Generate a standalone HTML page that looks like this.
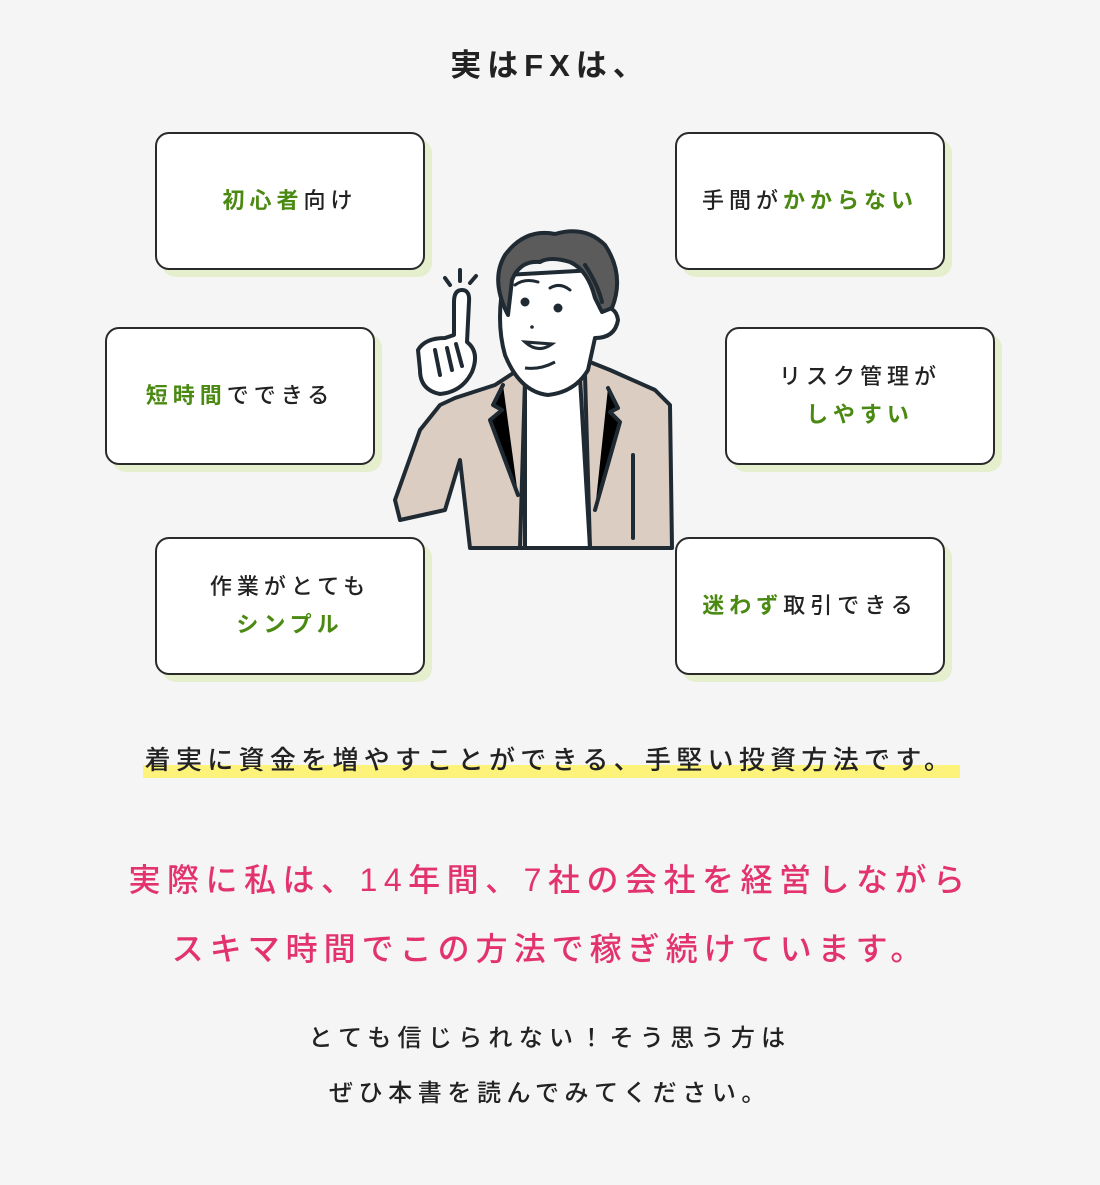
<!DOCTYPE html>
<html><head><meta charset="utf-8"><style>
*{margin:0;padding:0;box-sizing:border-box}
body{width:1100px;height:1185px;background:#f5f5f5;font-family:"Liberation Sans","Noto Sans CJK JP",sans-serif;color:#222;position:relative;overflow:hidden}
.t{position:absolute;left:0;width:1100px;text-align:center;white-space:nowrap}
.box{position:absolute;width:270px;height:138px;background:#fff;border:2px solid #2a2a2a;border-radius:14px;box-shadow:7px 7px 0 #e5eecd;display:flex;align-items:center;justify-content:center;text-align:center;font-size:22px;letter-spacing:5px;line-height:38px;font-weight:500}
.g{color:#4b8a12;font-weight:700}
</style></head><body>
<div class="t" style="top:40px;font-size:31px;letter-spacing:6px;font-weight:700">実はFXは、</div>

<div class="box" style="left:155px;top:132px"><div><span class="g">初心者</span>向け</div></div>
<div class="box" style="left:675px;top:132px"><div>手間が<span class="g">かからない</span></div></div>
<div class="box" style="left:105px;top:327px"><div><span class="g">短時間</span>でできる</div></div>
<div class="box" style="left:725px;top:327px"><div>リスク管理が<br><span class="g">しやすい</span></div></div>
<div class="box" style="left:155px;top:537px"><div>作業がとても<br><span class="g">シンプル</span></div></div>
<div class="box" style="left:675px;top:537px"><div><span class="g">迷わず</span>取引できる</div></div>

<svg style="position:absolute;left:390px;top:220px" width="290" height="330" viewBox="0 0 290 330">
<g stroke="#1f2a33" stroke-width="4" stroke-linecap="round" stroke-linejoin="round">
<!-- body jacket -->
<path d="M128 150 L105 165 L65 178 L50 185 L30 210 L5 280 L10 300 L55 290 L70 240 L80 328 L282 328 L280 185 L265 170 L220 150 L195 140 Z" fill="#dccdc3"/>
<!-- shirt -->
<path d="M135 160 Q160 175 190 158 L200 328 L135 328 Z" fill="#fff"/>
<path d="M135 160 L130 328 M195 155 L200 328"/>
<path d="M113 165 L103 185 L112 190 L100 200 L128 275"/>
<path d="M218 168 L228 188 L220 192 L230 202 L205 290"/>
<path d="M243 235 L243 318"/>
<!-- face -->
<path d="M115 55 Q105 100 115 135 Q130 172 158 175 Q185 172 198 150 L205 118 Q225 118 228 100 Q226 85 210 88 L205 50 Z" fill="#fff"/>
<!-- hair -->
<path d="M118 95 Q100 60 115 35 Q135 8 165 14 Q195 5 215 25 Q235 55 222 88 L212 92 L205 78 Q198 50 180 42 Q160 36 150 42 Q130 40 122 60 Z" fill="#5b5b5b"/>
<path d="M195 45 Q208 65 212 82" fill="none"/>
<path d="M125 65 Q135 58 148 62 M160 68 Q170 62 180 70" fill="none" stroke-width="3"/>
<!-- hand -->
<path d="M64 82 Q64 70 72 70 Q80 70 79 82 L77 122 Q90 132 82 152 Q72 172 50 174 Q30 170 30 150 L28 130 Q35 118 55 118 L64 115 Z" fill="#fff"/>
<path d="M45 130 L50 155 M57 128 L62 150 M66 124 L72 146" fill="none"/>
<!-- sparkle -->
<path d="M55 58 L60 65 M70 50 L70 61 M86 56 L80 63" fill="none"/>
</g>
<g fill="#1f2a33"><circle cx="135" cy="82" r="4.5"/><circle cx="168" cy="88" r="4.5"/><circle cx="142" cy="107" r="1.8"/></g>
<path d="M135 122 Q148 134 162 124 Z" fill="#fff" stroke="#1f2a33" stroke-width="3"/>
<path d="M135 148 Q150 150 165 142" fill="none" stroke="#1f2a33" stroke-width="3"/>
</svg>

<div style="position:absolute;left:143px;top:765px;width:817px;height:13px;background:#fdf27a"></div>
<div class="t" style="top:740px;font-size:26px;letter-spacing:5.3px;font-weight:500">着実に資金を増やすことができる、手堅い投資方法です。</div>

<div class="t" style="top:855px;font-size:32px;letter-spacing:6.5px;color:#e3336f;font-weight:500">実際に私は、14年間、7社の会社を経営しながら</div>
<div class="t" style="top:924px;font-size:32px;letter-spacing:6px;color:#e3336f;font-weight:500">スキマ時間でこの方法で稼ぎ続けています。</div>

<div class="t" style="top:1018px;font-size:24px;letter-spacing:6.3px;font-weight:500">とても信じられない！そう思う方は</div>
<div class="t" style="top:1073px;font-size:24px;letter-spacing:5.6px;font-weight:500">ぜひ本書を読んでみてください。</div>
</body></html>
